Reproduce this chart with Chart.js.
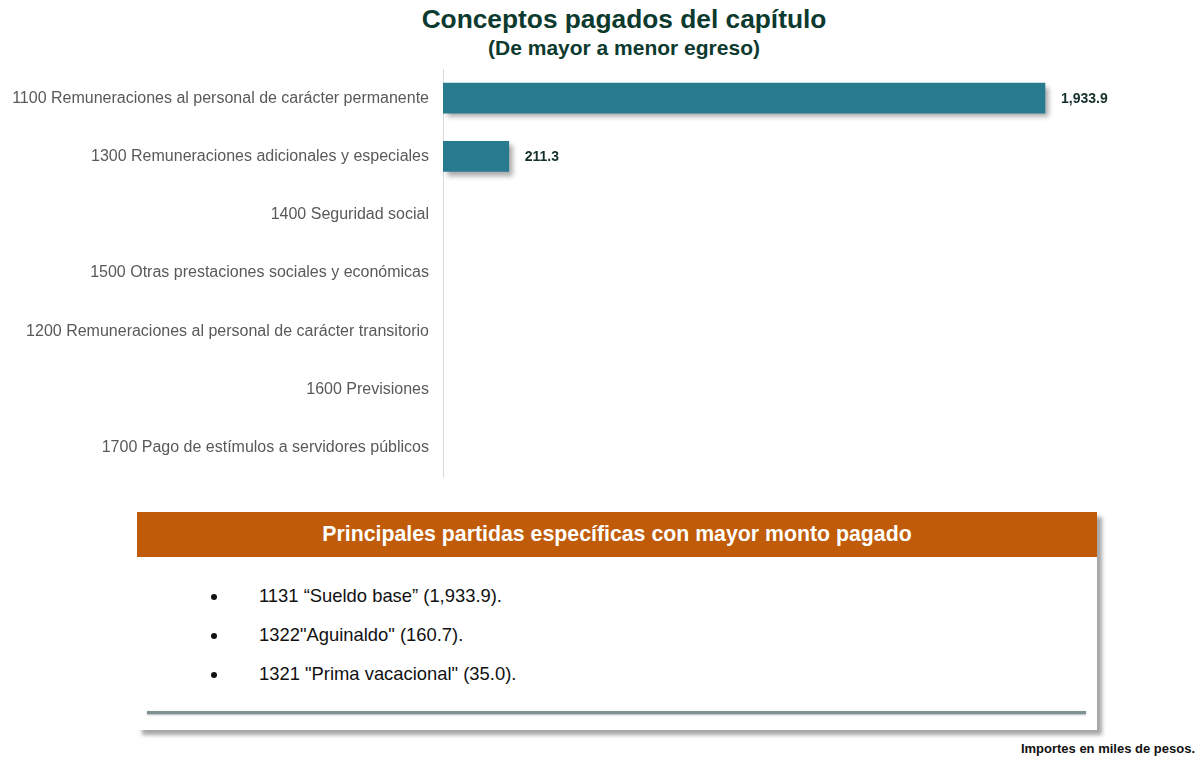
<!DOCTYPE html>
<html lang="es">
<head>
<meta charset="utf-8">
<title>Conceptos pagados del capítulo</title>
<script src="https://cdn.jsdelivr.net/npm/chart.js@4.4.1/dist/chart.umd.min.js"></script>
<style>
  html, body { margin: 0; padding: 0; background: #fff; }
  body { width: 1196px; height: 757px; position: relative; overflow: hidden;
         font-family: 'Liberation Sans', Arial, sans-serif; }
  .title { position: absolute; left: 0; width: 1248px; text-align: center;
           color: #0d3a2f; font-weight: bold; white-space: nowrap; }
  #t1 { top: 4px; font-size: 26.3px; }
  #t2 { top: 36px; font-size: 21px; }
  #chartWrap { position: absolute; left: 0; top: 60px; width: 1196px; height: 425px; }
  .box { position: absolute; left: 137px; top: 512px; width: 960px; height: 218px;
         background: #fff; box-shadow: 5px 5px 4px rgba(0,0,0,0.35); }
  .box .head { height: 45px; background: #c05b09; color: #fff; font-weight: bold;
               font-size: 21.3px; line-height: 45px; text-align: center; white-space: nowrap; }
  .box ul { list-style: none; margin: 0; padding: 0; position: absolute; left: 0; top: 73px; }
  .box li { position: relative; height: 39px; font-size: 18.4px; color: #111;
            padding-left: 122px; line-height: 22px; white-space: nowrap; }
  .box li::before { content: ''; position: absolute; left: 74px; top: 9px; width: 6px; height: 6px;
                    border-radius: 50%; background: #111; }
  .box .rule { position: absolute; left: 10px; right: 11px; top: 199px; height: 3px;
               background: #7d9393; box-shadow: 0 1px 2px rgba(0,0,0,0.3); }
  #note { position: absolute; right: 1px; top: 741px; font-size: 13px; font-weight: bold; color: #111; }
</style>
</head>
<body>
<div class="title" id="t1">Conceptos pagados del capítulo</div>
<div class="title" id="t2">(De mayor a menor egreso)</div>
<div id="chartWrap"><canvas id="chart"></canvas></div>

<div class="box">
  <div class="head">Principales partidas específicas con mayor monto pagado</div>
  <ul id="partidas"></ul>
  <div class="rule"></div>
</div>
<div id="note">Importes en miles de pesos.</div>

<script>
'use strict';

// ── Data ────────────────────────────────────────────────────────
const categories = [
  '1100 Remuneraciones al personal de carácter permanente',
  '1300 Remuneraciones adicionales y especiales',
  '1400 Seguridad social',
  '1500 Otras prestaciones sociales y económicas',
  '1200 Remuneraciones al personal de carácter transitorio',
  '1600 Previsiones',
  '1700 Pago de estímulos a servidores públicos',
];
const pagado = [1933.9, 211.3, 0, 0, 0, 0, 0];

const partidas = [
  '1131 “Sueldo base” (1,933.9).',
  '1322"Aguinaldo" (160.7).',
  '1321 "Prima vacacional" (35.0).',
];

const BAR_COLOR = '#287a8e';

// ── Bullet list ─────────────────────────────────────────────────
const ul = document.getElementById('partidas');
partidas.forEach(p => {
  const li = document.createElement('li');
  li.textContent = p;
  ul.appendChild(li);
});

// ── Shadow + value labels ───────────────────────────────────────
const barDecor = {
  id: 'barDecor',
  beforeDatasetsDraw(chart) {
    const ctx = chart.ctx;
    ctx.save();
    ctx.shadowColor = 'rgba(0,0,0,0.35)';
    ctx.shadowOffsetX = 4;
    ctx.shadowOffsetY = 4;
    ctx.shadowBlur = 5;
  },
  afterDatasetsDraw(chart) {
    const ctx = chart.ctx;
    ctx.restore();
    const meta = chart.getDatasetMeta(0);
    ctx.save();
    ctx.font = "bold 14px 'Liberation Sans', Arial, sans-serif";
    ctx.fillStyle = '#13302a';
    ctx.textAlign = 'left';
    ctx.textBaseline = 'middle';
    meta.data.forEach((bar, i) => {
      const v = pagado[i];
      if (!v) return;
      const txt = v.toLocaleString('en-US', { minimumFractionDigits: 1, maximumFractionDigits: 1 });
      ctx.fillText(txt, bar.x + 16, bar.y + 1);
    });
    ctx.restore();
  },
};

// ── Chart ───────────────────────────────────────────────────────
new Chart(document.getElementById('chart'), {
  type: 'bar',
  data: {
    labels: categories,
    datasets: [{
      data: pagado,
      // empty categories get no visible mark (and no shadow)
      backgroundColor: ctx => (ctx.raw ? BAR_COLOR : 'rgba(0,0,0,0)'),
      borderWidth: 0,
      barThickness: 30,
    }],
  },
  plugins: [barDecor],
  options: {
    indexAxis: 'y',
    responsive: true,
    maintainAspectRatio: false,
    animation: false,
    layout: { padding: { top: 9, bottom: 8, right: 10 } },
    plugins: { legend: { display: false }, tooltip: { enabled: false } },
    scales: {
      x: { display: false, min: 0, max: 2387 },
      y: {
        afterFit(scale) {
          scale.width = 443;
          scale.paddingTop = 0;
          scale.paddingBottom = 0;
        },
        grid: { display: false, drawTicks: false },
        border: { display: true, color: '#d9d9d9', width: 1 },
        ticks: {
          padding: 14,
          color: '#595959',
          font: { family: "'Liberation Sans', Arial, sans-serif", size: 16 },
        },
      },
    },
  },
});
</script>
</body>
</html>
